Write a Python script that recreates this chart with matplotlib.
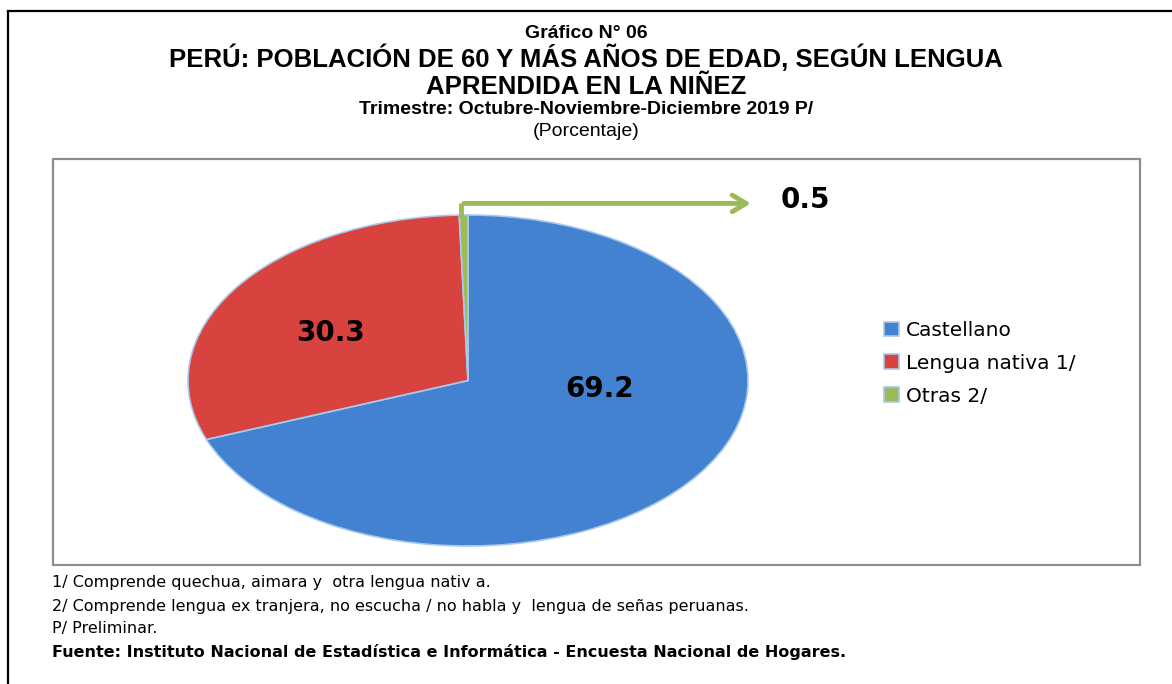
import matplotlib.pyplot as plt
from matplotlib.patches import Rectangle

categorias = ["Castellano", "Lengua nativa 1/", "Otras 2/"]
valores = [69.2, 30.3, 0.5]
colores = ["#4282D0", "#D8423F", "#9BBB59"]

notas = [
    "1/ Comprende quechua, aimara y  otra lengua nativ a.",
    "2/ Comprende lengua ex tranjera, no escucha / no habla y  lengua de señas peruanas.",
    "P/ Preliminar.",
]
fuente = "Fuente: Instituto Nacional de Estadística e Informática - Encuesta Nacional de Hogares."

W, H = 1172, 684
fig = plt.figure(figsize=(W / 100, H / 100), dpi=100)
fig.patch.set_facecolor("white")

def fx(px):
    return px / W

def fy(py):
    return 1 - py / H

arial = ["Liberation Sans", "DejaVu Sans"]

# marco exterior y caja del grafico
fig.add_artist(plt.Line2D([fx(8), fx(8)], [fy(11), 0], color="black", lw=1.6))
fig.add_artist(plt.Line2D([fx(8), 1], [fy(11), fy(11)], color="black", lw=1.6))
fig.add_artist(Rectangle((fx(53), fy(565)), fx(1140) - fx(53), fy(159) - fy(565),
                         fill=False, edgecolor="#8c8c8c", lw=1.6))

# titulos
fig.text(0.5, fy(33), "Gráfico N° 06", ha="center", va="center",
         fontsize=14, fontweight="bold", family=arial)
fig.text(0.5, fy(58), "PERÚ: POBLACIÓN DE 60 Y MÁS AÑOS DE EDAD, SEGÚN LENGUA",
         ha="center", va="center", fontsize=18.5, fontweight="bold", family=arial)
fig.text(0.5, fy(87), "APRENDIDA EN LA NIÑEZ", ha="center", va="center",
         fontsize=18.5, fontweight="bold", family=arial)
fig.text(0.5, fy(109), "Trimestre: Octubre-Noviembre-Diciembre 2019 P/", ha="center",
         va="center", fontsize=14, fontweight="bold", family=arial)
fig.text(0.5, fy(131), "(Porcentaje)", ha="center", va="center",
         fontsize=14, family=arial)

# pastel eliptico
ax = fig.add_axes([fx(188), fy(546), fx(748) - fx(188), fy(215) - fy(546)])
wedges, _ = ax.pie(valores, colors=colores, startangle=90, counterclock=False,
                   wedgeprops=dict(edgecolor="#a9c9ee", linewidth=1.2))
ax.set_aspect("auto")
ax.set_xlim(-1, 1)
ax.set_ylim(-1, 1)
ax.axis("off")

ax.text(-0.49, 0.29, f"{valores[1]:.1f}", ha="center", va="center",
        fontsize=20, fontweight="bold")
ax.text(0.47, -0.05, f"{valores[0]:.1f}", ha="center", va="center",
        fontsize=20, fontweight="bold")

# flecha hacia la etiqueta de la porcion pequena
ax.annotate("", xy=(1.02, 1.07), xytext=(-0.025, 1.07),
            arrowprops=dict(arrowstyle="->,head_length=1.0,head_width=0.6",
                            color="#9BBB59", lw=3.5),
            annotation_clip=False)
ax.plot([-0.025, -0.025], [0.99, 1.07], color="#9BBB59", lw=3.5,
        solid_capstyle="butt", clip_on=False)
fig.text(fx(805), fy(200), f"{valores[2]:.1f}", ha="center", va="center",
         fontsize=20, fontweight="bold")

# leyenda
leg = fig.legend(wedges, categorias, loc="upper left",
                 bbox_to_anchor=(fx(866), fy(303)), frameon=False,
                 handlelength=0.75, handleheight=0.75, handletextpad=0.35,
                 labelspacing=0.68, prop=dict(family="DejaVu Sans", size=14.5))

# notas
ys = [583, 606, 628]
for texto, y in zip(notas, ys):
    fig.text(fx(52), fy(y), texto, ha="left", va="center", fontsize=11.5,
             family="DejaVu Sans")
fig.text(fx(52), fy(652), fuente, ha="left", va="center", fontsize=11.5,
         fontweight="bold", family="DejaVu Sans")

fig.savefig("out.png", dpi=100, facecolor="white")
